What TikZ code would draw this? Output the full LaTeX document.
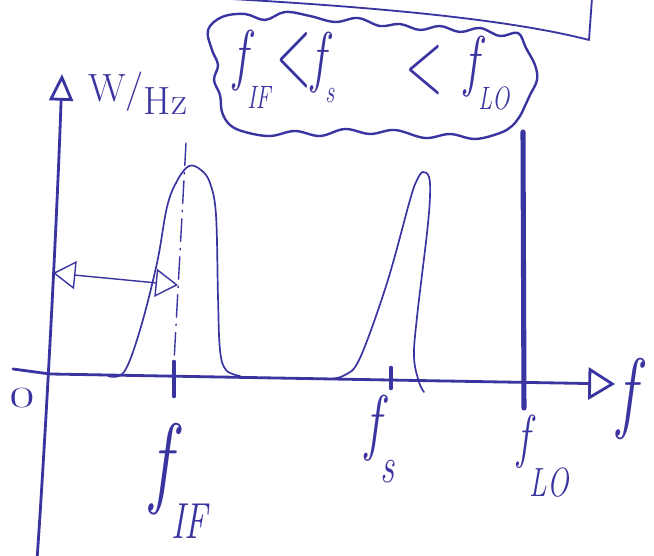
\documentclass[tikz,border=0pt]{standalone}
\usepackage{graphicx}
\usetikzlibrary{arrows.meta}
\definecolor{ink}{RGB}{58,52,160}
\newcommand{\narrow}[1]{\scalebox{0.7}[1]{#1}}
\newcommand{\flabel}[3]{\narrow{\itshape f\raisebox{#1}{\fontsize{#2}{#2}\selectfont #3}}}

\begin{document}
\begin{tikzpicture}[x=0.025cm, y=-0.025cm, line cap=round, line join=round,
    >={Triangle[open, length=19pt, width=17pt]},
    pen/.style={draw=ink, line width=1.3pt},
    axis/.style={draw=ink, line width=2pt},
    tick/.style={draw=ink, line width=3.3pt},
    lbl/.style={text=ink, inner sep=0pt, anchor=base west}]
    \useasboundingbox (0,0) rectangle (654,556);

    \coordinate (boxl) at (213,-2);
    \coordinate (boxc) at (589,40);
    \coordinate (boxt) at (592,-2);
    \draw[pen] (boxl) .. controls (400,8) and (520,22) .. (boxc) -- (boxt);

    \draw[pen, line width=1.7pt] plot[smooth cycle, tension=0.6] coordinates {
        (208,30) (222,17) (245,14) (265,20) (285,12) (310,16) (335,22) (358,18)
        (380,26) (400,24) (420,30) (440,26) (460,32) (480,28) (500,36) (518,33)
        (526,48) (535,65) (537,80) (530,95) (524,108) (520,116) (512,126)
        (500,133) (475,139) (450,134) (425,138) (395,130) (370,134) (345,129)
        (320,136) (295,131) (270,136) (245,132) (230,125)
        (222,112) (220,95) (214,80) (218,65) (212,50)};

    \node[lbl, font=\fontsize{48}{48}\selectfont] (cIF) at (233,78) {\flabel{-22pt}{23}{IF}};
    \node[text=ink, font=\fontsize{72}{72}\selectfont] (clt1) at (294,60) {\scalebox{0.45}[1]{<}};
    \node[lbl, font=\fontsize{48}{48}\selectfont] (cS) at (311,80) {\flabel{-16pt}{23}{s}};
    \node[text=ink, font=\fontsize{64}{64}\selectfont] (clt2) at (424,70) {\scalebox{0.55}[1]{<}};
    \node[lbl, font=\fontsize{48}{48}\selectfont] (cLO) at (464,84) {\flabel{-18pt}{23}{LO}};

    \coordinate (yb) at (37,560);
    \coordinate (yt) at (62,74);
    \draw[axis, ->] (yb) .. controls (46,430) and (57,220) .. (yt);

    \coordinate (xl) at (13,369);
    \coordinate (o) at (50,374);
    \coordinate (xr) at (615,384);
    \draw[axis, ->, >={Triangle[open, length=19pt, width=23pt]}] (xl) -- (o) -- (xr);

    \node[lbl, font=\fontsize{28}{28}\selectfont] (unit) at (88,102) {W/\raisebox{-9pt}{Hz}};
    \node[text=ink, font=\fontsize{26}{26}\selectfont] (zero) at (22,398) {\scalebox{1.5}[0.8]{0}};
    \node[lbl, font=\fontsize{64}{64}\selectfont] (flab) at (617,422) {\narrow{\itshape f}};

    \draw[pen, line width=1.2pt] plot[smooth, tension=0.6] coordinates {
        (108,376) (124,372) (140,330) (157,263) (167,207) (177,181) (189,166)
        (201,170) (210,183) (216,215) (218,297) (220,350) (226,370) (240,376)};
    \draw[pen, line width=1.2pt] plot[smooth, tension=0.6] coordinates {
        (330,379) (345,375) (360,358) (387,283) (410,200) (417,180) (423,172)
        (429,177) (430,196) (427,233) (417,317) (414,357) (419,382) (424,392)};

    \coordinate (dt) at (186,143);
    \coordinate (db) at (174,362);
    \draw[pen, line width=1pt, dash pattern=on 16pt off 5pt on 1pt off 5pt] (dt) -- (db);

    \draw[tick] (174,362) -- (174,396);
    \draw[tick] (391,368) -- (391,388);
    \draw[tick, line width=3.6pt] (523,132) -- (524,408);

    \coordinate (bwl) at (53,273);
    \coordinate (bwr) at (178,285);
    \draw[pen, line width=1pt, <->, >={Triangle[open, length=16pt, width=20pt]}] (bwl) -- (bwr);

    \node[lbl, font=\fontsize{72}{72}\selectfont] (fIF) at (150,495) {\flabel{-31pt}{36}{IF}};
    \node[lbl, font=\fontsize{52}{52}\selectfont] (fS) at (365,447) {\flabel{-25pt}{36}{s}};
    \node[lbl, font=\fontsize{42}{42}\selectfont] (fLO) at (517,457) {\flabel{-28pt}{29}{LO}};
\end{tikzpicture}
\end{document}
